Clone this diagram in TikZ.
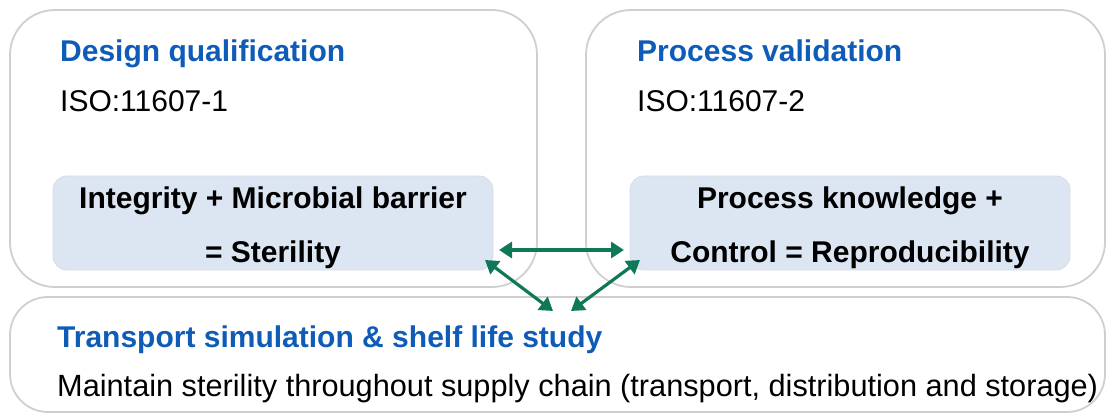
\documentclass[tikz,border=0pt]{standalone}
\usepackage{fontspec}
\setmainfont{Liberation Sans}
\usetikzlibrary{arrows.meta}
\definecolor{titleblue}{HTML}{0E5CB8}
\definecolor{boxblue}{HTML}{DCE6F2}
\definecolor{framegray}{HTML}{CFCFCF}
\definecolor{innergray}{HTML}{D6DCE4}
\definecolor{arrowgreen}{HTML}{0F7858}
\begin{document}
\begin{tikzpicture}[x=1pt,y=-1pt,
 outer/.style={draw=framegray,line width=1.8pt,rounded corners=45pt,inner sep=0pt},
 outerlow/.style={draw=framegray,line width=1.8pt,rounded corners=38pt,inner sep=0pt},
 inner/.style={draw=innergray,line width=0.8pt,fill=boxblue,rounded corners=14pt,inner sep=0pt,minimum width=440pt,minimum height=94pt},
 title/.style={anchor=base west,inner sep=0pt,font=\fontsize{30}{36}\selectfont\bfseries,text=titleblue},
 plain/.style={anchor=base west,inner sep=0pt,font=\fontsize{30}{36}\selectfont},
 boxtext/.style={anchor=base,inner sep=0pt,font=\fontsize{30}{36}\selectfont\bfseries},
 link/.style={draw=arrowgreen,line width=3.2pt,{Triangle[length=13pt,width=16pt]}-{Triangle[length=13pt,width=16pt]}}]
\useasboundingbox (0,0) rectangle (1108,414);
% outer boxes
\node[outer,minimum width=527pt,minimum height=277pt] (lbox) at (273.5,148.5) {};
\node[outer,minimum width=519pt,minimum height=277pt] (rbox) at (845.5,148.5) {};
\node[outerlow,minimum width=1095pt,minimum height=115pt] (bbox) at (557.5,354.5) {};
% inner boxes
\node[inner] (lin) at (273,223) {};
\node[inner] (rin) at (850,223) {};
% texts
\node[title] (lt) at (60,62) {Design qualification};
\node[plain] (ls) at (60,112) {ISO:11607-1};
\node[title] (rt) at (637,62) {Process validation};
\node[plain] (rs) at (637,112) {ISO:11607-2};
\node[boxtext] (l1) at (273,209) {Integrity + Microbial barrier};
\node[boxtext] (l2) at (273,262) {= Sterility};
\node[boxtext] (r1) at (850,209) {Process knowledge +};
\node[boxtext] (r2) at (850,262) {Control = Reproducibility};
\node[title] (bt) at (57,347) {Transport simulation \& shelf life study};
\node[plain,font=\fontsize{30.7}{36}\selectfont] (bs) at (57,396) {Maintain sterility throughout supply chain (transport, distribution and storage)};
% connector ends
\coordinate (h1) at (499,250);
\coordinate (h2) at (624,250);
\coordinate (d1) at (485,260);
\coordinate (d2) at (553,311);
\coordinate (d3) at (640,260);
\coordinate (d4) at (571,311);
\draw[link] (h1) -- (h2);
\draw[link] (d1) -- (d2);
\draw[link] (d3) -- (d4);
\end{tikzpicture}
\end{document}
